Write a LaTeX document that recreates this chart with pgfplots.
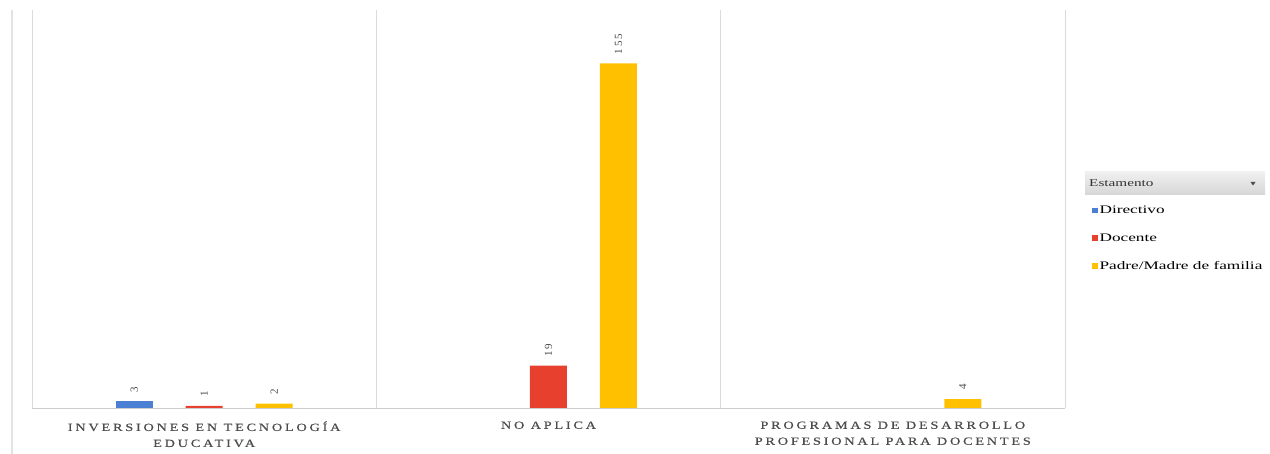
\documentclass[border=0pt]{standalone}
\usepackage{fontspec}
\usepackage{pgfplots}
\pgfplotsset{compat=1.18}
\setmainfont{Liberation Serif}
\newfontfamily\catfont[FakeStretch=1.3,LetterSpace=25,FakeBold=0.4]{Liberation Serif}
\newfontfamily\legfont[FakeStretch=1.5]{Liberation Serif}
\newfontfamily\hdrfont[FakeStretch=1.45]{Liberation Serif}
\newfontfamily\numfont[LetterSpace=18]{Liberation Serif}
\definecolor{cDir}{HTML}{4A7FD4}
\definecolor{cDoc}{HTML}{E8402F}
\definecolor{cPad}{HTML}{FFC000}
\begin{document}
\begin{tikzpicture}
\useasboundingbox (-32pt,-46pt) rectangle (1238pt,408pt);
\draw[gray!22, line width=1.2pt] (-20pt,-46pt) -- (-20pt,398pt);
\begin{axis}[
  scale only axis, width=1033pt, height=398pt, at={(0pt,0pt)}, anchor=south west,
  ybar=33pt, bar width=37pt,
  xmin=-0.5, xmax=2.5, ymin=0, ymax=179,
  axis x line*=bottom, axis y line=none,
  x axis line style={draw=gray!40, line width=0.8pt, -},
  xtick={0,1,2},
  xticklabels={{INVERSIONES EN TECNOLOGÍA\\EDUCATIVA},{NO APLICA},{PROGRAMAS DE DESARROLLO\\PROFESIONAL PARA DOCENTES}},
  xticklabel style={font=\catfont\fontsize{11}{16}\selectfont, text=black!70, align=center, yshift=-10pt},
  major tick length=0pt,
  extra x ticks={-0.5,0.5,1.5,2.5}, extra x tick labels={},
  extra x tick style={grid=major, major grid style={draw=gray!28, line width=0.8pt}},
  ytick=\empty,
  nodes near coords,
  every node near coord/.append style={rotate=90, anchor=west, font=\numfont\fontsize{11}{11}\selectfont, text=black!70, inner xsep=9pt, inner ysep=1pt},
  /pgf/number format/assume math mode=true,
  legend style={at={(1.026,0.513)}, anchor=north west, draw=none, fill=none, font=\legfont\fontsize{11.5}{11.5}\selectfont, row sep=14.5pt, inner sep=0pt},
  legend cell align=left,
  legend image code/.code={\fill[#1] (0pt,-2.8pt) rectangle (5.5pt,2.8pt);},
]
\addplot[fill=cDir, draw=none] coordinates {(0,3)};
\addplot[fill=cDoc, draw=none] coordinates {(0,1) (1,19)};
\addplot[fill=cPad, draw=none] coordinates {(0,2) (1,155) (2,4)};
\legend{Directivo, Docente, Padre/Madre de familia}
\end{axis}
\shade[top color=gray!12, bottom color=gray!32] (1053pt,213pt) rectangle (1233pt,236pt);
\node[anchor=west, font=\hdrfont\fontsize{10.5}{10.5}\selectfont, text=black!80, inner sep=0pt] at (1057pt,224.5pt) {Estamento};
\fill[black!70] (1218.5pt,226pt) -- (1223.5pt,226pt) -- (1221pt,222.5pt) -- cycle;
\end{tikzpicture}
\end{document}
